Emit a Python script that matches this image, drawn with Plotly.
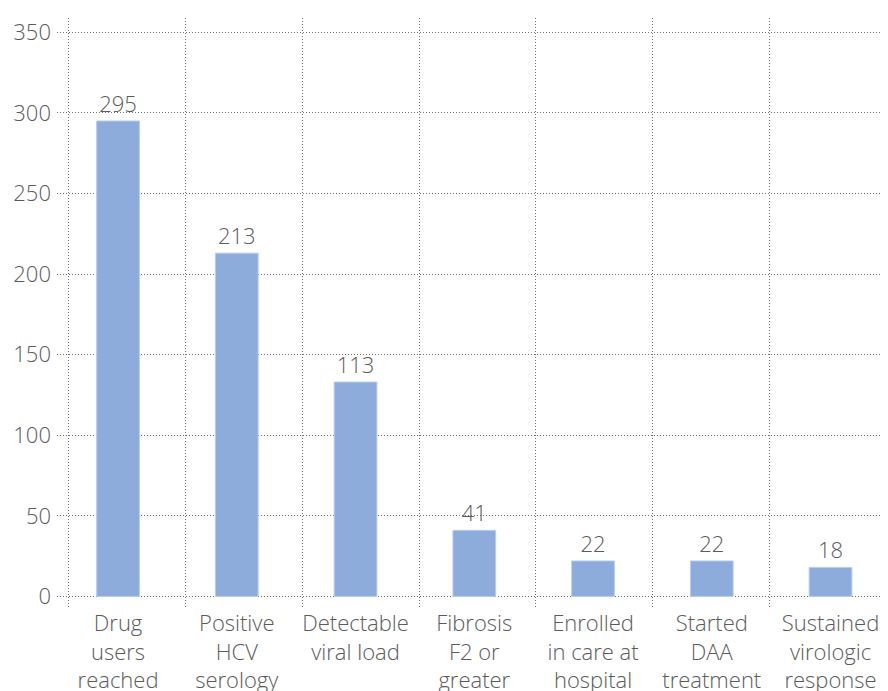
import plotly.graph_objects as go

# Dados do gráfico (cascata de cuidado HCV)
categorias = [
    "Drug<br>users<br>reached",
    "Positive<br>HCV<br>serology",
    "Detectable<br>viral load",
    "Fibrosis<br>F2 or<br>greater",
    "Enrolled<br>in care at<br>hospital",
    "Started<br>DAA<br>treatment",
    "Sustained<br>virologic<br>response",
]
posicoes = [0, 1, 2, 3, 4, 5, 6]
valores = [295, 213, 133, 41, 22, 22, 18]
rotulos = ["295", "213", "113", "41", "22", "22", "18"]
ticks_y = [0, 50, 100, 150, 200, 250, 300, 350]

FONTE = "Open Sans, Arial, sans-serif"
COR_TEXTO = "#5a5a5a"
COR_BARRA = "#8DACDB"
COR_GRADE = "#6f6f6f"

# linhas verticais entre categorias (ligeiramente defasadas das barras)
divisorias = [-0.4185 + 0.9844 * k for k in range(8)]

fig = go.Figure()

fig.add_trace(go.Bar(
    x=posicoes,
    y=valores,
    width=0.36,
    marker=dict(color=COR_BARRA, line=dict(color="#b9cdec", width=1)),
    text=rotulos,
    textposition="outside",
    textfont=dict(size=22, color=COR_TEXTO, family=FONTE, weight=300),
    cliponaxis=False,
    showlegend=False,
))

# a página tem 8px de margem no body, por isso as margens são compensadas
fig.update_layout(
    width=888,
    height=691,
    margin=dict(l=49, r=8, t=10, b=91),
    paper_bgcolor="white",
    plot_bgcolor="white",
    font=dict(family=FONTE, size=22, color=COR_TEXTO, weight=300),
    xaxis=dict(
        range=[-0.514, 6.484],
        tickvals=posicoes,
        ticktext=categorias,
        showgrid=False,
        zeroline=False,
        showline=False,
        ticks="",
        automargin=False,
        tickfont=dict(size=22, color=COR_TEXTO, weight=300),
        minor=dict(
            tickvals=divisorias,
            showgrid=True,
            gridcolor=COR_GRADE,
            gridwidth=1,
            griddash="1px,2px",
            ticks="",
        ),
    ),
    yaxis=dict(
        range=[-7.2, 358.9],
        tickvals=ticks_y,
        showgrid=True,
        gridcolor=COR_GRADE,
        gridwidth=1,
        griddash="1px,2px",
        zeroline=False,
        showline=False,
        ticks="",
        automargin=False,
        ticklabelstandoff=5,
        tickfont=dict(size=22, color=COR_TEXTO, weight=300),
    ),
)

fig.write_html("out.html")
